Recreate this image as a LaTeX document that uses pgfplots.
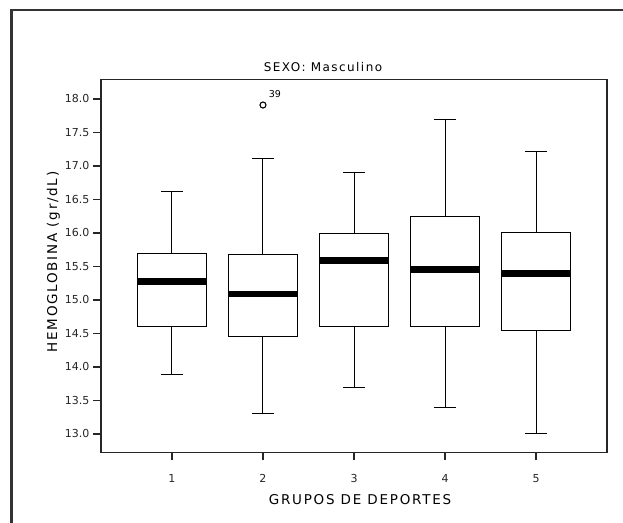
\documentclass[border=0pt]{standalone}
\usepackage{fontspec}
\setmainfont{DejaVu Sans}
\newfontfamily\titlefont[LetterSpace=12]{DejaVu Sans}
\newfontfamily\labfont[LetterSpace=13]{DejaVu Sans}
\usepackage{pgfplots}
\pgfplotsset{compat=1.18}

% one SPSS style box: position, lower whisker, lower quartile, median, upper quartile, upper whisker
\newcommand\spssbox[6]{%
  \pgfmathsetmacro\boxl{#1-0.38}\pgfmathsetmacro\boxr{#1+0.38}%
  \pgfmathsetmacro\capl{#1-0.12}\pgfmathsetmacro\capr{#1+0.12}%
  \addplot[boxln] coordinates {(#1,#2) (#1,#3)};
  \addplot[boxln] coordinates {(#1,#5) (#1,#6)};
  \addplot[boxln] coordinates {(\capl,#2) (\capr,#2)};
  \addplot[boxln] coordinates {(\capl,#6) (\capr,#6)};
  \addplot[boxln, fill=white] coordinates {(\boxl,#3) (\boxr,#3) (\boxr,#5) (\boxl,#5) (\boxl,#3)};
  \addplot[black, line width=6.8pt, line cap=butt] coordinates {(\boxl,#4) (\boxr,#4)};
}

\begin{document}
\begin{tikzpicture}
\useasboundingbox (0pt,0pt) rectangle (623pt,522pt);
\fill[white] (0pt,0pt) rectangle (623pt,522pt);
% outer frame (left and top edges visible)
\draw[line width=2.7pt, black!80] (11.5pt,-5pt) -- (11.5pt,512pt) -- (630pt,512pt);

\begin{axis}[
  at={(101pt,69.7pt)}, anchor=south west,
  scale only axis,
  width=506pt, height=372.6pt,
  xmin=0.22, xmax=5.78,
  ymin=12.726, ymax=18.288,
  xtick={1,2,3,4,5},
  ytick={13,13.5,14,14.5,15,15.5,16,16.5,17,17.5,18},
  tick pos=left,
  tick align=outside,
  major tick length=8pt,
  axis line style={line width=1.3pt, black!85},
  tick style={line width=1.3pt, black!85},
  /pgf/number format/assume math mode=true,
  tick label style={font=\fontsize{11}{13}\selectfont, black!85},
  x tick label style={yshift=-11pt},
  y tick label style={/pgf/number format/.cd, fixed, fixed zerofill, precision=1, /tikz/.cd},
  boxln/.style={black, line width=1pt, line join=miter, mark=none},
]
  \spssbox{1}{13.88}{14.60}{15.28}{15.69}{16.62}
  \spssbox{2}{13.30}{14.46}{15.09}{15.68}{17.11}
  \spssbox{3}{13.69}{14.60}{15.59}{15.99}{16.90}
  \spssbox{4}{13.39}{14.60}{15.45}{16.24}{17.70}
  \spssbox{5}{13.00}{14.55}{15.39}{16.00}{17.21}
  % outlier
  \addplot[only marks, mark=o, mark size=3pt, black, line width=1.1pt,
    nodes near coords, point meta=explicit symbolic,
    nodes near coords style={font=\fontsize{9.5}{11}\selectfont, anchor=south west, xshift=2pt, yshift=3pt}]
    coordinates {(2,17.91) [39]};
\end{axis}

\node[font=\titlefont\fontsize{12}{14}\selectfont] at (323pt,454.5pt) {SEXO: Masculino};
\node[font=\labfont\fontsize{13.5}{15}\selectfont] at (360pt,22pt) {GRUPOS DE DEPORTES};
\node[rotate=90, font=\labfont\fontsize{13.5}{15}\selectfont] at (53.5pt,260pt) {HEMOGLOBINA (gr/dL)};
\end{tikzpicture}
\end{document}
